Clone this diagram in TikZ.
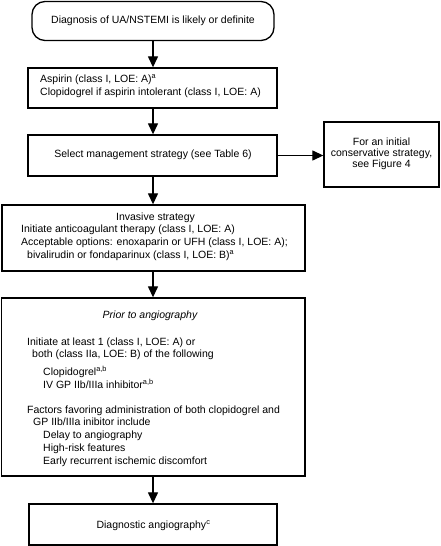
\documentclass[tikz,border=0pt]{standalone}
\usepackage{fontspec}
\setmainfont{Liberation Sans}
\usetikzlibrary{arrows.meta}
\tikzset{
  box/.style={draw=black, line width=1.35pt, inner sep=0pt, rectangle},
  txt/.style={inner sep=0pt, text height=7.6pt, text depth=2.2pt, font=\fontsize{10.5}{12.5}\selectfont},
  arr/.style={line width=1.3pt, draw=black, -{Triangle[width=10pt,length=11pt]}}
}
\begin{document}
\begin{tikzpicture}[x=1pt,y=-1pt]
\path[use as bounding box, fill=white] (0,0) rectangle (441,546);
% boxes
\node[box, rounded corners=13pt, minimum width=242pt, minimum height=39pt] (b1) at (153,21) {};
\node[box, minimum width=249pt, minimum height=40pt] (b2) at (152.5,88) {};
\node[box, minimum width=249pt, minimum height=41pt] (b3) at (152.5,155.5) {};
\node[box, minimum width=115pt, minimum height=65pt] (b4) at (381.5,154.5) {};
\node[box, minimum width=303pt, minimum height=66pt] (b5) at (153.5,238) {};
\node[box, minimum width=303.5pt, minimum height=178pt] (b6) at (153.25,387) {};
\node[box, minimum width=248pt, minimum height=41pt] (b7) at (153,524.5) {};
% texts
\node[txt] (t1) at (153,21) {Diagnosis of UA/NSTEMI is likely or definite};
\node[txt, anchor=west] (t2a) at (40,80) {Aspirin (class I, LOE: A)\textsuperscript{a}};
\node[txt, anchor=west] (t2b) at (40,93) {Clopidogrel if aspirin intolerant (class I, LOE: A)};
\node[txt] (t3) at (153,155) {Select management strategy (see Table 6)};
\node[inner sep=0pt, align=center, font=\fontsize{10.5}{10.8}\selectfont] (t4) at (381.5,153.5) {For an initial\\conservative strategy,\\see Figure 4};
\node[txt] (t5a) at (155.5,217.5) {Invasive strategy};
\node[txt, anchor=west] (t5b) at (21,230.2) {Initiate anticoagulant therapy (class I, LOE: A)};
\node[txt, anchor=west] (t5c) at (21,242.9) {Acceptable options: enoxaparin or UFH (class I, LOE: A);};
\node[txt, anchor=west] (t5d) at (27,255.6) {bivalirudin or fondaparinux (class I, LOE: B)\textsuperscript{a}};
\node[txt, font=\fontsize{10.5}{12.5}\selectfont\itshape] (t6a) at (150,315.5) {Prior to angiography};
\node[txt, anchor=west] (t6b) at (27,342.5) {Initiate at least 1 (class I, LOE: A) or};
\node[txt, anchor=west] (t6c) at (32,354.5) {both (class IIa, LOE: B) of the following};
\node[txt, anchor=west] (t6d) at (43,372.5) {Clopidogrel\textsuperscript{a,b}};
\node[txt, anchor=west] (t6e) at (43,385.5) {IV GP IIb/IIIa inhibitor\textsuperscript{a,b}};
\node[txt, anchor=west] (t6f) at (27,410.5) {Factors favoring administration of both clopidogrel and};
\node[txt, anchor=west] (t6g) at (33,423) {GP IIb/IIIa inibitor include};
\node[txt, anchor=west] (t6h) at (43,436) {Delay to angiography};
\node[txt, anchor=west] (t6i) at (43,449) {High-risk features};
\node[txt, anchor=west] (t6j) at (43,462) {Early recurrent ischemic discomfort};
\node[txt] (t7) at (153.5,526) {Diagnostic angiography\textsuperscript{c}};
% arrows
\draw[arr] (b1.south) -- (b1.south |- b2.north);
\draw[arr] (b1.south |- b2.south) -- (b1.south |- b3.north);
\draw[arr] (b1.south |- b3.south) -- (b1.south |- b5.north);
\draw[arr] (b1.south |- b5.south) -- (b1.south |- b6.north);
\draw[arr] (b1.south |- b6.south) -- (b1.south |- b7.north);
\draw[arr] (b3.east) -- (b4.west |- b3.east);
\end{tikzpicture}
\end{document}
